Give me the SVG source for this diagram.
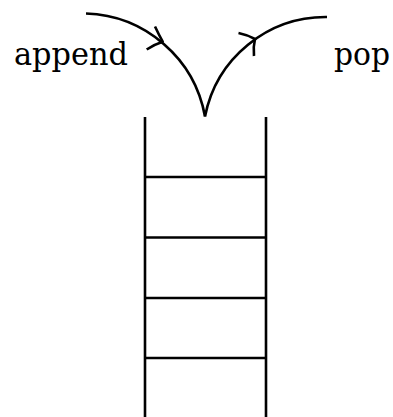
<svg xmlns="http://www.w3.org/2000/svg" width="393" height="417" viewBox="0 0 393 417">
  <style>
    .ln { fill: none; stroke: #000; stroke-width: 2.6; stroke-linecap: butt; stroke-linejoin: round; }
    .lbl { font-family: "DejaVu Serif", "Liberation Serif", serif; font-size: 31px; fill: #000; }
  </style>
  <rect width="393" height="417" fill="#fff"/>

  <!-- stack: open-topped tube with separators -->
  <g id="stack">
    <line class="ln" x1="145" y1="117" x2="145" y2="417"/>
    <line class="ln" x1="266" y1="117" x2="266" y2="417"/>
    <line class="ln" x1="145" y1="177" x2="266" y2="177"/>
    <line class="ln" x1="145" y1="237.5" x2="266" y2="237.5"/>
    <line class="ln" x1="145" y1="298" x2="266" y2="298"/>
    <line class="ln" x1="145" y1="358" x2="266" y2="358"/>
  </g>

  <g id="append">
    <text class="lbl" x="14" y="65" textLength="114" lengthAdjust="spacingAndGlyphs">append</text>
  </g>
  <g id="pop">
    <text class="lbl" x="334" y="65" textLength="56" lengthAdjust="spacingAndGlyphs">pop</text>
  </g>

  <!-- push / pop paths with open arrowheads -->
  <g id="connectors">
    <path class="ln" d="M86,13.5 A125,125 0 0 1 205,116.5"/>
    <path class="ln" d="M155,26.5 Q159,35 162.7,41.7 Q154,44.5 146.7,49.5"/>
    <path class="ln" d="M205,116.5 A123,123 0 0 1 327,17"/>
    <path class="ln" d="M238.5,33 Q248,35 255,39 Q253,47 254,56"/>
  </g>
</svg>
